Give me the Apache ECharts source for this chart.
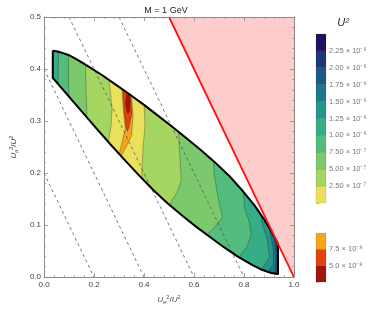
<!DOCTYPE html>
<html><head><meta charset="utf-8">
<script src="https://cdn.jsdelivr.net/npm/echarts@6/dist/echarts.min.js"></script>
<style>html,body{margin:0;padding:0;background:#fff}#c{width:374px;height:310px}</style>
</head><body><div id="c"></div>
<script>
// ---------------- DATA ----------------
const titleText = 'M = 1 GeV';
const xTickLabels = ['0.0', '0.2', '0.4', '0.6', '0.8', '1.0'];
const yTickLabels = ['0.0', '0.1', '0.2', '0.3', '0.4', '0.5'];

// allowed-region outline (U_e^2/U^2, U_mu^2/U^2)
const outlineTop = [[0.035,0.435],[0.060,0.433],[0.098,0.427],[0.136,0.417],[0.174,0.406],[0.230,0.389],[0.287,0.370],[0.343,0.351],[0.400,0.331],[0.457,0.310],[0.513,0.289],[0.570,0.267],[0.626,0.245],[0.683,0.221],[0.740,0.195],[0.796,0.165],[0.842,0.138],[0.879,0.112],[0.909,0.088],[0.936,0.064]];
const outlineBottom = [[0.035,0.383],[0.098,0.348],[0.155,0.316],[0.211,0.285],[0.268,0.254],[0.325,0.224],[0.381,0.195],[0.438,0.167],[0.494,0.142],[0.551,0.119],[0.608,0.097],[0.664,0.077],[0.721,0.057],[0.777,0.039],[0.834,0.023],[0.872,0.014],[0.909,0.008],[0.936,0.006]];

// contours on the left side of the valley (value grows to the left)
const levelsLeft = [2.5e-7, 5e-7, 7.5e-7, 1e-6];
const contoursLeft = [
  [[0.258,0.40],[0.262,0.37],[0.272,0.325],[0.268,0.29],[0.255,0.255],[0.250,0.235]],
  [[0.165,0.44],[0.168,0.36],[0.172,0.30],[0.178,0.27]],
  [[0.097,0.46],[0.098,0.38],[0.101,0.32]],
  [[0.059,0.46],[0.057,0.40],[0.055,0.33]]
];
// contours on the right side of the valley (value grows to the right)
const levelsRight = [2.5e-7, 5e-7, 7.5e-7, 1e-6, 1.25e-6, 1.5e-6, 1.75e-6, 2.0e-6];
const contoursRight = [
  [[0.400,0.35],[0.401,0.329],[0.404,0.288],[0.396,0.25],[0.392,0.209],[0.389,0.17]],
  [[0.537,0.30],[0.540,0.26],[0.545,0.22],[0.549,0.185],[0.532,0.163],[0.508,0.145],[0.500,0.12]],
  [[0.676,0.26],[0.680,0.20],[0.695,0.156],[0.714,0.115],[0.690,0.100],[0.660,0.085],[0.645,0.06]],
  [[0.794,0.19],[0.797,0.162],[0.803,0.131],[0.821,0.106],[0.828,0.081],[0.812,0.058],[0.787,0.043],[0.780,0.02]],
  [[0.866,0.14],[0.870,0.108],[0.894,0.071],[0.902,0.039],[0.880,0.022],[0.855,0.005]],
  [[0.900,0.11],[0.904,0.088],[0.917,0.053],[0.918,0.024],[0.900,0.012],[0.890,-0.01]],
  [[0.920,0.09],[0.922,0.071],[0.928,0.039],[0.926,0.015],[0.915,-0.01]],
  [[0.931,0.07],[0.932,0.045],[0.932,0.015],[0.928,-0.01]]
];
// low-value islands (value below level)
const islandLevels = [1e-7, 7.5e-8, 5e-8];
const islands = [
  [[0.312,0.372],[0.312,0.360],[0.316,0.328],[0.325,0.284],[0.306,0.247],[0.299,0.234],[0.306,0.231],[0.325,0.247],[0.350,0.272],[0.356,0.310],[0.350,0.350],[0.355,0.367]],
  [[0.317,0.366],[0.316,0.356],[0.321,0.316],[0.328,0.288],[0.333,0.280],[0.340,0.288],[0.352,0.316],[0.346,0.347],[0.345,0.359]],
  [[0.330,0.350],[0.340,0.352],[0.345,0.338],[0.343,0.321],[0.336,0.314],[0.330,0.321],[0.326,0.335]]
];
const dashedSums = [0.2, 0.4, 0.6, 0.8];   // U_e^2/U^2 + U_mu^2/U^2 = const
const limitSum = 1.0;                      // unphysical beyond this

// colour bars
const cbLevels = [2.5e-7, 5e-7, 7.5e-7, 1e-6, 1.25e-6, 1.5e-6, 1.75e-6, 2.0e-6, 2.25e-6];
const cbLabels = ['2.50 × 10⁻⁷','5.00 × 10⁻⁷','7.50 × 10⁻⁷','1.00 × 10⁻⁶','1.25 × 10⁻⁶','1.50 × 10⁻⁶','1.75 × 10⁻⁶','2.00 × 10⁻⁶','2.25 × 10⁻⁶'];
const cbLowLevels = [5e-8, 7.5e-8];
const cbLowLabels = ['5.0 × 10⁻⁸','7.5 × 10⁻⁸'];

// ---------------- STYLE ----------------
const mainColors = ['#e9e05b','#a6d662','#7bc96c','#52bd7c','#37ad86','#24968b','#1c788a','#1b5a83','#1d3677','#22105e']; // below 2.5e-7 ... above 2.25e-6
const lowColors = ['#a2150b','#e2420c','#f6a41c']; // below 5e-8, 5e-8..7.5e-8, above 7.5e-8
const contourStroke = 'rgba(35,35,35,0.55)';

function colorAbove(level){ const i = cbLevels.indexOf(level); return mainColors[i+1]; }
function colorBelow(level){
  if (level === 1e-7) return lowColors[2];
  const i = cbLowLevels.indexOf(level); return lowColors[i];
}

// ---------------- GEOMETRY ----------------
const outline = outlineTop.concat(outlineBottom.slice().reverse());
function clipPoly(subject, clip){
  let area = 0;
  for (let i=0;i<clip.length;i++){ const j=(i+1)%clip.length; area += clip[i][0]*clip[j][1]-clip[j][0]*clip[i][1]; }
  const sgn = area > 0 ? 1 : -1;
  let out = subject;
  for (let i=0;i<clip.length && out.length;i++){
    const a = clip[i], b = clip[(i+1)%clip.length];
    const side = p => sgn*((b[0]-a[0])*(p[1]-a[1])-(b[1]-a[1])*(p[0]-a[0]));
    const inp = out; out = [];
    for (let k=0;k<inp.length;k++){
      const cur = inp[k], prev = inp[(k+inp.length-1)%inp.length];
      const dc = side(cur), dp = side(prev);
      if (dc >= 0){
        if (dp < 0){ const t = dp/(dp-dc); out.push([prev[0]+t*(cur[0]-prev[0]), prev[1]+t*(cur[1]-prev[1])]); }
        out.push(cur);
      } else if (dp >= 0){ const t = dp/(dp-dc); out.push([prev[0]+t*(cur[0]-prev[0]), prev[1]+t*(cur[1]-prev[1])]); }
    }
  }
  return out;
}
const bands = [];
bands.push({poly: outline, color: mainColors[0], stroke: 'none'});
contoursLeft.forEach((c,i)=>{
  const f = c[0], l = c[c.length-1];
  const sub = c.concat([[l[0],-1],[-1,-1],[-1,2],[f[0],2]]);
  bands.push({poly: clipPoly(sub, outline), color: colorAbove(levelsLeft[i]), stroke: contourStroke});
});
contoursRight.forEach((c,i)=>{
  const f = c[0], l = c[c.length-1];
  const sub = c.concat([[l[0],-1],[2,-1],[2,2],[f[0],2]]);
  bands.push({poly: clipPoly(sub, outline), color: colorAbove(levelsRight[i]), stroke: contourStroke});
});
islands.forEach((p,i)=>{
  bands.push({poly: clipPoly(p, outline), color: colorBelow(islandLevels[i]), stroke: contourStroke});
});

const pinkRegion = [[limitSum-0.5,0.5],[1,0.5],[limitSum,0]];

// ---------------- CHART ----------------
const chart = echarts.init(document.getElementById('c'), null, {renderer:'canvas'});
const axisGray = '#8a8a8a';
const nameRich = {
  u:{fontSize:8, fontStyle:'italic', color:'#444', lineHeight:11, fontFamily:'Liberation Sans'},
  s:{fontSize:5.5, fontStyle:'italic', color:'#444', lineHeight:6, verticalAlign:'bottom', fontFamily:'Liberation Sans'},
  p:{fontSize:5.5, color:'#444', lineHeight:6, verticalAlign:'top', fontFamily:'Liberation Sans'},
  n:{fontSize:8, color:'#444', lineHeight:11, fontFamily:'Liberation Sans'}
};
function frameAxis(extra){
  return Object.assign({
    type:'value', z:10,
    axisLine:{show:true, onZero:false, lineStyle:{color:axisGray, width:1}},
    axisTick:{show:true, inside:true, length:4, lineStyle:{color:axisGray, width:0.8}},
    minorTick:{show:true, splitNumber:5, length:2, lineStyle:{color:axisGray, width:0.6}},
    splitLine:{show:false}, minorSplitLine:{show:false}
  }, extra);
}
const lbl = {fontSize:8, color:'#444', fontFamily:'Liberation Sans'};
const cbLbl = {fontSize:7.5, color:'#777', margin:3, fontFamily:'Liberation Sans'};

const option = {
  animation:false,
  backgroundColor:'#fff',
  title:[
    {text:titleText, left:161, top:1, textAlign:'center', textStyle:{fontSize:9, fontWeight:'normal', color:'#222', fontFamily:'Liberation Sans'}},
    {text:'U²', left:338, top:12, textAlign:'center', textStyle:{fontSize:11, fontStyle:'italic', fontWeight:'normal', color:'#222', fontFamily:'Liberation Sans'}}
  ],
  grid:[
    {left:29, top:17, width:265, height:266},
    {left:316, top:34, width:10, height:169},
    {left:316, top:233, width:10, height:49}
  ],
  xAxis:[
    frameAxis({gridIndex:0, position:'bottom', min:0, max:1, interval:0.2,
      axisLabel:Object.assign({margin:4, formatter:v=>xTickLabels[Math.round(v/0.2)]}, lbl),
      name:'{u|U}{s|e}{p|2}{n|/}{u|U}{p|2}', nameLocation:'middle', nameGap:16, nameTextStyle:{rich:nameRich}}),
    frameAxis({gridIndex:0, position:'top', min:0, max:1, interval:0.2, axisLabel:{show:false}}),
    {gridIndex:1, type:'value', min:0, max:1, show:false},
    {gridIndex:2, type:'value', min:0, max:1, show:false}
  ],
  yAxis:[
    frameAxis({gridIndex:0, position:'left', min:0, max:0.5, interval:0.1,
      axisLabel:Object.assign({margin:3, formatter:v=>yTickLabels[Math.round(v/0.1)]}, lbl),
      name:'{u|U}{s|μ}{p|2}{n|/}{u|U}{p|2}', nameLocation:'middle', nameGap:16, nameRotate:90, nameTextStyle:{rich:nameRich}}),
    frameAxis({gridIndex:0, position:'right', min:0, max:0.5, interval:0.1, axisLabel:{show:false}}),
    {gridIndex:1, type:'value', position:'right', min:0, max:cbLevels.length+1, interval:1,
      axisLine:{show:false}, splitLine:{show:false},
      axisTick:{show:true, length:3, lineStyle:{color:'#999', width:0.6}},
      axisLabel:Object.assign({formatter:v=>(v>=1 && v<=cbLabels.length) ? cbLabels[v-1] : ''}, cbLbl)},
    {gridIndex:2, type:'value', position:'right', min:0, max:cbLowLevels.length+1, interval:1,
      axisLine:{show:false}, splitLine:{show:false},
      axisTick:{show:true, length:3, lineStyle:{color:'#999', width:0.6}},
      axisLabel:Object.assign({formatter:v=>(v>=1 && v<=cbLowLabels.length) ? cbLowLabels[v-1] : ''}, cbLbl)}
  ],
  series:[
    {type:'custom', xAxisIndex:0, yAxisIndex:0, z:1, silent:true, clip:true,
      data:[[0.9,0.4]],
      renderItem:(params, api)=>({type:'polygon', shape:{points:pinkRegion.map(p=>api.coord(p))}, style:{fill:'#ffcccc', stroke:'none'}})},
    {type:'custom', xAxisIndex:0, yAxisIndex:0, z:2, silent:true, clip:true,
      data:bands.map(b=>b.poly.length ? b.poly[0] : [0,0]),
      renderItem:(params, api)=>{
        const b = bands[params.dataIndex];
        if (!b.poly.length) return null;
        return {type:'polygon', shape:{points:b.poly.map(p=>api.coord(p))}, style:{fill:b.color, stroke:b.stroke, lineWidth:0.6}};
      }},
    ...dashedSums.map(c=>({type:'line', xAxisIndex:0, yAxisIndex:0, z:3, silent:true, showSymbol:false, symbol:'none',
      data:[[Math.max(0,c-0.5), Math.min(c,0.5)],[c,0]],
      lineStyle:{color:'#555', width:0.8, type:[3,3]}})),
    {type:'line', xAxisIndex:0, yAxisIndex:0, z:4, silent:true, showSymbol:false, symbol:'none',
      data:outline.concat([outline[0]]), lineStyle:{color:'#000', width:2, join:'round'}},
    {type:'line', xAxisIndex:0, yAxisIndex:0, z:5, silent:true, showSymbol:false, symbol:'none',
      data:[[limitSum-0.5,0.5],[limitSum,0]], lineStyle:{color:'#ff1010', width:1.8}},
    {type:'custom', xAxisIndex:2, yAxisIndex:2, silent:true,
      data:mainColors.map((c,i)=>[0.5,i+0.5]),
      renderItem:(params, api)=>{
        const i = params.dataIndex; const a = api.coord([0,i]); const b = api.coord([1,i+1]);
        return {type:'rect', shape:{x:a[0], y:b[1], width:b[0]-a[0], height:a[1]-b[1]}, style:{fill:mainColors[i], stroke:'rgba(0,0,0,0.2)', lineWidth:0.5}};
      }},
    {type:'custom', xAxisIndex:3, yAxisIndex:3, silent:true,
      data:lowColors.map((c,i)=>[0.5,i+0.5]),
      renderItem:(params, api)=>{
        const i = params.dataIndex; const a = api.coord([0,i]); const b = api.coord([1,i+1]);
        return {type:'rect', shape:{x:a[0], y:b[1], width:b[0]-a[0], height:a[1]-b[1]}, style:{fill:lowColors[i], stroke:'rgba(0,0,0,0.2)', lineWidth:0.5}};
      }}
  ]
};
chart.setOption(option);
</script></body></html>
